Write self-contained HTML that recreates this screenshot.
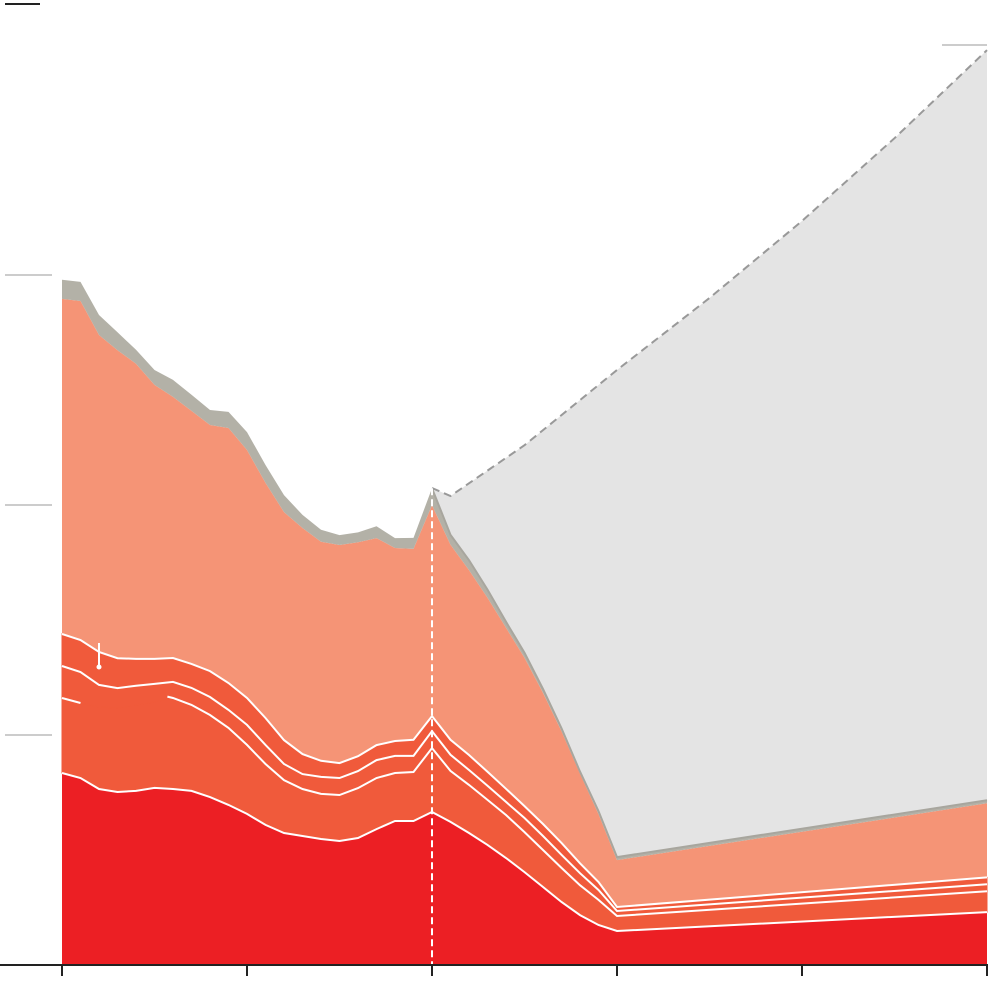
<!DOCTYPE html>
<html><head><meta charset="utf-8"><style>
html,body{margin:0;padding:0;background:#fff;}
svg{display:block;font-family:"Liberation Sans",sans-serif;}
</style></head><body>
<svg id="chart" width="1000" height="1008" viewBox="0 0 1000 1008" xmlns="http://www.w3.org/2000/svg">
<line x1="5" y1="4" x2="40" y2="4" stroke="#222" stroke-width="2"/>
</svg>
<script>
const years = [0,1,2,3,4,5,6,7,8,9,10,11,12,13,14,15,16,17,18,19,20,21,22,23,24,25,26,27,28,29,30,50];
const redVals = [83.5,81.3,76.5,75.2,75.7,77,76.5,75.7,73,69.6,65.7,60.9,57.4,56.1,54.8,53.9,55.2,59.1,62.6,62.6,66.5,62.2,57.4,52.2,46.5,40.4,33.9,27.4,21.7,17.4,14.8,23];
const orangeVals = [32.6,32.6,35.7,36.5,37.4,37.4,39.6,37.4,35.7,33.5,30,26.5,23,20.4,19.6,20,21.7,22.2,20.9,21.3,27.8,22.2,20.9,19.6,18.7,17.4,16.1,14.8,13,10.9,6.5,9.1];
const orange2Vals = [13.9,13.5,9.6,8.7,8.3,7.8,7,7.4,7.8,7.8,8.7,8.3,7,6.5,7.4,7.4,7.4,7.8,7.4,7,7.4,7,6.5,6.1,5.7,6.1,6.1,5.7,5.2,4.3,2.2,3];
const orange3Vals = [13.9,13.9,14.3,13,11.7,10.9,10.4,10.4,11.3,11.7,11.7,11.7,10.4,8.7,7,6.5,6.5,6.5,6.5,7,6.5,6.5,6.5,6.1,5.7,5.2,5.2,5.2,4.3,3.5,1.7,3];
const salmonVals = [145.7,147.4,137.8,133.9,128.3,119.1,113.5,110,107,110.9,107.8,102.2,99.1,98.3,95.2,94.8,93,90,83.9,83,91.7,84.8,80.4,75.7,70,64.5,57,48.5,39,29.5,20.4,32.2];
const grayVals = [8.3,8.3,8.7,7.8,6.1,6.5,7.4,7,6.5,7,7.8,7.8,7.4,5.7,5.2,4.3,4.3,5.2,4.3,4.8,7.4,4.3,4.3,3.5,2.6,2.2,1.7,1.3,0.9,1.3,1.3,1.3];
const projYears = [20,21,25,30,35,40,45,50];
const projTotal = [207.4,203.9,226,258.7,290,323.5,359.5,397.8];
const xTicks = [0,10,20,30,40,50];
const yTicks = [100,200,300];

const svg = document.getElementById('chart');
const NS = 'http://www.w3.org/2000/svg';
const xs = v => 62 + v * 18.5;
const ys = v => 965 - v * 2.3;
function mk(tag, attrs){const e=document.createElementNS(NS,tag);for(const k in attrs)e.setAttribute(k,attrs[k]);svg.appendChild(e);return e;}

const series = [redVals, orangeVals, orange2Vals, orange3Vals, salmonVals, grayVals];
const colors = ['#ec1f24','#f05a3b','#f05a3b','#f05a3b','#f59476','#b3b1a7'];
const names = ['area-red','area-orange','area-orange-2','area-orange-3','area-salmon','area-gray'];
const cum = [years.map(()=>0)];
series.forEach((s,i)=>cum.push(s.map((v,j)=>cum[i][j]+v)));
const pts = arr => years.map((y,j)=>xs(y).toFixed(1)+','+ys(arr[j]).toFixed(1));

const stackTop = cum[6];
const projD = 'M' + projYears.map((y,j)=>xs(y).toFixed(1)+','+ys(projTotal[j]).toFixed(1)).join(' L');
const idx20 = years.indexOf(20);
const back = [];
for (let j = years.length-1; j >= idx20; j--) back.push(xs(years[j]).toFixed(1)+','+ys(stackTop[j]).toFixed(1));
const proj = mk('path',{d: projD + ' L' + back.join(' L') + ' Z', fill:'#e4e4e4'});



for (let i = 0; i < 6; i++) {
  const upper = pts(cum[i+1]); const lower = pts(cum[i]).reverse();
  const attrs = {d:'M'+upper.join(' L')+' L'+lower.join(' L')+' Z', fill:colors[i]};
  if (i >= 1 && i <= 3) { attrs.stroke = colors[i]; attrs['stroke-width'] = 1; }
  const p = mk('path', attrs);
  
  
}
[1,3,4].forEach(i=>{
  const l = mk('polyline',{points:pts(cum[i]).join(' '),fill:'none',stroke:'#fff','stroke-width':2});
  
  
});
const p2 = pts(cum[2]);
const segA = mk('polyline',{points:p2.slice(0,2).join(' '),fill:'none',stroke:'#fff','stroke-width':2});


const segB = mk('polyline',{points:[(xs(5.7)).toFixed(1)+','+ys(cum[2][6]+0.6).toFixed(1)].concat(p2.slice(6)).join(' '),fill:'none',stroke:'#fff','stroke-width':2});


const grayLine = mk('polyline',{points:pts(stackTop).slice(idx20).join(' '),fill:'none',stroke:'#a8a69e','stroke-width':2});


const dash = mk('path',{d:projD,fill:'none',stroke:'#999','stroke-width':2,'stroke-dasharray':'8,5'});


const ann = mk('line',{x1:99,y1:643,x2:99,y2:666,stroke:'#fff','stroke-width':2});


const dot = mk('circle',{cx:99,cy:667,r:2.5,fill:'#fff'});


const vd = mk('line',{x1:xs(20),y1:ys(stackTop[idx20]),x2:xs(20),y2:965,stroke:'#fff','stroke-width':2,'stroke-dasharray':'7,4'});


yTicks.forEach(t=>{
  const g = mk('line',{x1:5,y1:ys(t),x2:52,y2:ys(t),stroke:'#ccc','stroke-width':2});
  
  
});
const tr = mk('line',{x1:942,y1:ys(400),x2:987,y2:ys(400),stroke:'#ccc','stroke-width':2});


const ax = mk('line',{x1:0,y1:965,x2:988,y2:965,stroke:'#222','stroke-width':2});


xTicks.forEach(t=>{
  const tk = mk('line',{x1:xs(t),y1:965,x2:xs(t),y2:976,stroke:'#222','stroke-width':2});
  
  
});
</script>
</body></html>
